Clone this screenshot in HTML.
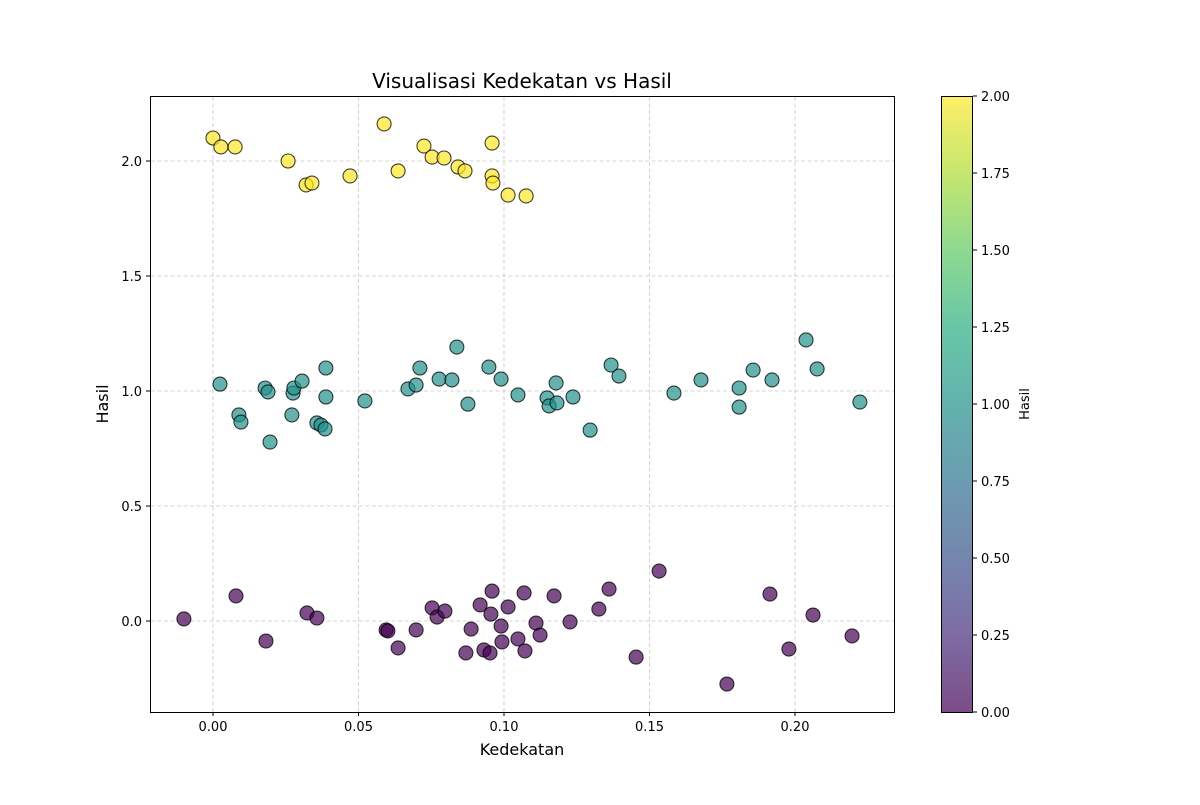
<!DOCTYPE html>
<html><head><meta charset="utf-8"><style>
body{margin:0;background:#fff;}
svg text{font-family:"DejaVu Sans","Liberation Sans",sans-serif;}
</style></head><body>
<svg id="chart" width="1200" height="800" xmlns="http://www.w3.org/2000/svg">
<defs>
<linearGradient id="vir" x1="0" y1="1" x2="0" y2="0">
<stop offset="0" stop-color="#440154"/><stop offset="0.125" stop-color="#472d7b"/><stop offset="0.25" stop-color="#3b528b"/><stop offset="0.375" stop-color="#2c728e"/><stop offset="0.5" stop-color="#21918c"/><stop offset="0.625" stop-color="#28ae80"/><stop offset="0.75" stop-color="#5ec962"/><stop offset="0.875" stop-color="#addc30"/><stop offset="1" stop-color="#fde725"/>
</linearGradient>
</defs>
<text x="522" y="88" font-size="20" text-anchor="middle">Visualisasi Kedekatan vs Hasil</text>
<g id="grid"></g>
<g id="points"></g>
<rect x="150.5" y="96.5" width="744" height="616" fill="none" stroke="#000" stroke-width="1"/>
<g id="axes"></g>
<text x="522" y="755" font-size="16" text-anchor="middle">Kedekatan</text>
<text x="108" y="404" font-size="16" text-anchor="middle" transform="rotate(-90 108 404)">Hasil</text>
<rect x="941.5" y="96.5" width="31" height="616" fill="url(#vir)" fill-opacity="0.7" stroke="#000"/>
<g id="cbar"></g>
<text x="1029" y="404" font-size="13" text-anchor="middle" transform="rotate(-90 1029 404)">Hasil</text>
</svg>
<script>
const xTicks=[0,0.05,0.10,0.15,0.20];
const xTickLabels=["0.00","0.05","0.10","0.15","0.20"];
const yTicks=[0,0.5,1.0,1.5,2.0];
const yTickLabels=["0.0","0.5","1.0","1.5","2.0"];
const cTicks=[0,0.25,0.5,0.75,1,1.25,1.5,1.75,2];
const cTickLabels=["0.00","0.25","0.50","0.75","1.00","1.25","1.50","1.75","2.00"];
const xYellow=[0.000,0.0027,0.0076,0.0258,0.0320,0.0340,0.0471,0.0588,0.0636,0.0725,0.0753,0.0794,0.0842,0.0866,0.0959,0.0959,0.0962,0.1014,0.1076];
const yYellow=[2.100,2.061,2.061,2.0,1.896,1.904,1.935,2.161,1.957,2.065,2.017,2.013,1.974,1.957,2.078,1.935,1.904,1.852,1.848];
const xTeal=[0.0024,0.0089,0.0096,0.0179,0.0189,0.0196,0.0271,0.0275,0.0278,0.0306,0.0357,0.0371,0.0385,0.0388,0.0388,0.0522,0.0670,0.0698,0.0711,0.0777,0.0821,0.0838,0.0876,0.0948,0.0990,0.1048,0.1148,0.1155,0.1179,0.1182,0.1237,0.1296,0.1368,0.1395,0.1584,0.1677,0.1808,0.1808,0.1856,0.1921,0.2038,0.2076,0.2223];
const yTeal=[1.030,0.896,0.865,1.013,0.996,0.778,0.896,0.991,1.013,1.043,0.861,0.852,0.835,1.100,0.974,0.957,1.009,1.026,1.100,1.052,1.048,1.191,0.943,1.104,1.052,0.983,0.970,0.935,1.035,0.948,0.974,0.830,1.113,1.065,0.991,1.048,1.013,0.930,1.091,1.048,1.222,1.096,0.952];
const xPurple=[-0.0100,0.0079,0.0182,0.0323,0.0357,0.0595,0.0601,0.0636,0.0698,0.0753,0.0770,0.0797,0.0869,0.0887,0.0918,0.0931,0.0952,0.0955,0.0959,0.0990,0.0993,0.1014,0.1048,0.1069,0.1072,0.1110,0.1124,0.1172,0.1227,0.1326,0.1361,0.1454,0.1533,0.1766,0.1914,0.1979,0.2062,0.2196];
const yPurple=[0.009,0.109,-0.087,0.035,0.013,-0.039,-0.043,-0.117,-0.039,0.057,0.017,0.043,-0.139,-0.035,0.070,-0.126,-0.139,0.030,0.130,-0.022,-0.091,0.061,-0.078,0.122,-0.130,-0.009,-0.061,0.109,-0.004,0.052,0.139,-0.157,0.217,-0.274,0.117,-0.122,0.026,-0.065];

const NS="http://www.w3.org/2000/svg";
const X=v=>213+v*2910, Y=v=>621-v*230, C=v=>712-v*308;
function mk(tag,attrs,parent){const e=document.createElementNS(NS,tag);for(const k in attrs)e.setAttribute(k,attrs[k]);parent.appendChild(e);return e;}
const grid=document.getElementById('grid'),axes=document.getElementById('axes'),pts=document.getElementById('points'),cb=document.getElementById('cbar');
xTicks.forEach((t,i)=>{const x=X(t);
 let g=mk('line',{x1:x,x2:x,y1:97,y2:712,stroke:'#b0b0b0','stroke-dasharray':'4,2.5','stroke-opacity':0.7,'stroke-width':0.8},grid);
 
 let l=mk('line',{x1:x,x2:x,y1:712,y2:716,stroke:'#000'},axes);
 
 let tx=mk('text',{x:x,y:731,'font-size':13,'text-anchor':'middle'},axes);tx.textContent=xTickLabels[i];
 });
yTicks.forEach((t,i)=>{const y=Y(t);
 let g=mk('line',{x1:151,x2:894,y1:y,y2:y,stroke:'#b0b0b0','stroke-dasharray':'4,2.5','stroke-opacity':0.7,'stroke-width':0.8},grid);
 
 let l=mk('line',{x1:146,x2:150,y1:y,y2:y,stroke:'#000'},axes);
 
 let tx=mk('text',{x:142,y:y+5,'font-size':13,'text-anchor':'end'},axes);tx.textContent=yTickLabels[i];
 });
cTicks.forEach((t,i)=>{const y=C(t);
 let l=mk('line',{x1:973,x2:977,y1:y,y2:y,stroke:'#000'},cb);
 
 let tx=mk('text',{x:981,y:y+5,'font-size':13},cb);tx.textContent=cTickLabels[i];
 });
function series(xs,ys,color,name){xs.forEach((v,i)=>{
 let c=mk('circle',{cx:X(v),cy:Y(ys[i]),r:7,fill:color,'fill-opacity':0.7,stroke:'#000','stroke-opacity':0.75,'stroke-width':1.1},pts);
 });}
series(xYellow,yYellow,'#fde725','point-hasil-2');
series(xTeal,yTeal,'#21918c','point-hasil-1');
series(xPurple,yPurple,'#440154','point-hasil-0');
</script>
</body></html>
